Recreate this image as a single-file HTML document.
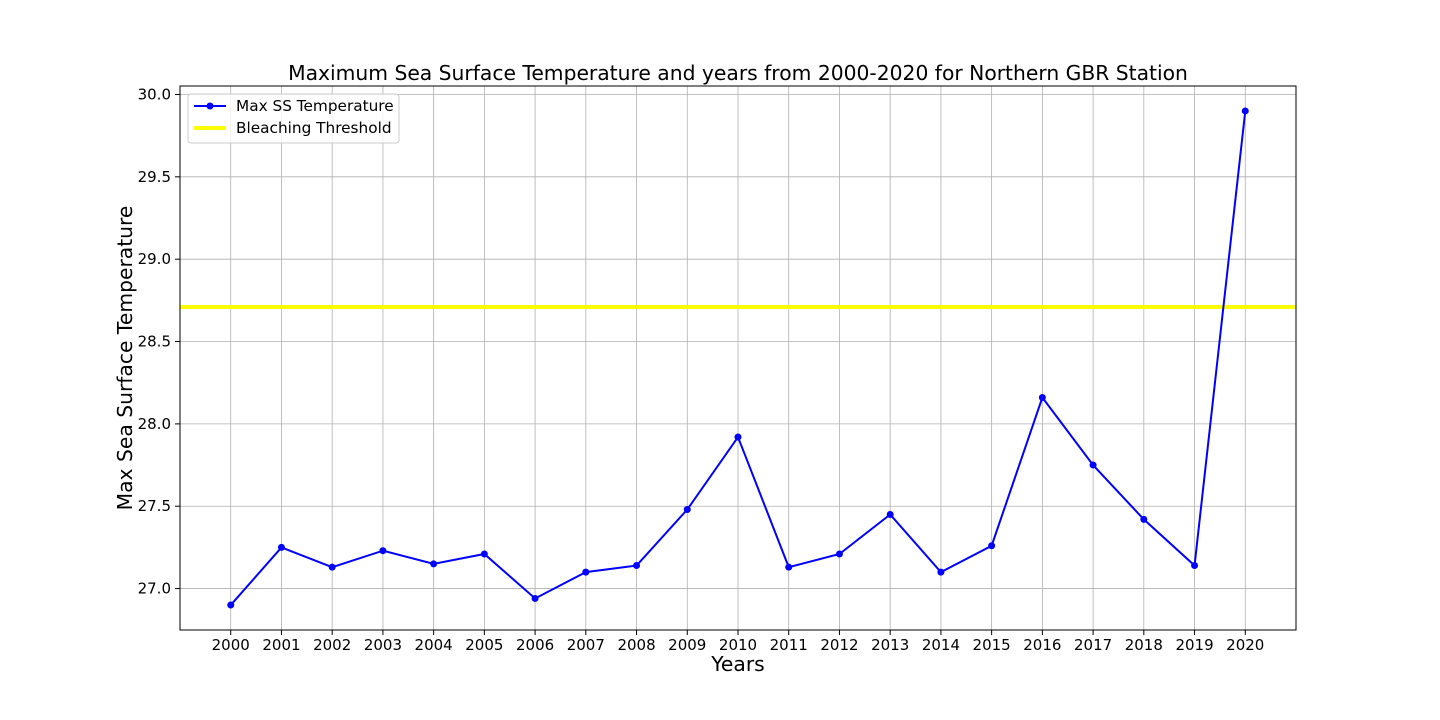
<!DOCTYPE html>
<html><head><meta charset="utf-8">
<style>
html,body{margin:0;padding:0;background:#fff;}
svg{display:block;font-family:"DejaVu Sans","Liberation Sans",sans-serif;}
</style></head>
<body>
<svg id="chart" width="1440" height="720"></svg>
<script>
const years=[2000,2001,2002,2003,2004,2005,2006,2007,2008,2009,2010,2011,2012,2013,2014,2015,2016,2017,2018,2019,2020];
const temps=[26.90,27.25,27.13,27.23,27.15,27.21,26.94,27.10,27.14,27.48,27.92,27.13,27.21,27.45,27.10,27.26,28.16,27.75,27.42,27.14,29.90];
const threshold=[28.71];
const yTicks=[27.0,27.5,28.0,28.5,29.0,29.5,30.0];

const L=180,R=1296,T=86,B=630;
const xMin=1999,xMax=2021,yMin=26.7485,yMax=30.0515;
const X=v=>L+(v-xMin)/(xMax-xMin)*(R-L);
const Y=v=>B-(v-yMin)/(yMax-yMin)*(B-T);
const NS="http://www.w3.org/2000/svg";
const svg=document.getElementById('chart');
function mk(tag,attrs,parent){const e=document.createElementNS(NS,tag);for(const k in attrs)e.setAttribute(k,attrs[k]);(parent||svg).appendChild(e);return e;}

const grid=mk('g',{});


years.forEach(y=>{mk('line',{x1:X(y),x2:X(y),y1:T,y2:B,stroke:'#b0b0b0','stroke-width':0.8},grid);});
yTicks.forEach(t=>{mk('line',{x1:L,x2:R,y1:Y(t),y2:Y(t),stroke:'#b0b0b0','stroke-width':0.8},grid);});

const th=mk('line',{x1:L,x2:R,y1:Y(threshold[0]),y2:Y(threshold[0]),stroke:'#ffff00','stroke-width':4});



const pl=mk('polyline',{points:years.map((y,i)=>X(y)+','+Y(temps[i])).join(' '),fill:'none',stroke:'#0000ff','stroke-width':2});


years.forEach((y,i)=>{
 const c=mk('circle',{cx:X(y),cy:Y(temps[i]),r:3.5,fill:'#0000ff'});
 
 
});

const frame=mk('rect',{x:L,y:T,width:R-L,height:B-T,fill:'none',stroke:'#000','stroke-width':1});



years.forEach(y=>{
 mk('line',{x1:X(y),x2:X(y),y1:B,y2:B+5,stroke:'#000'});
 const t=mk('text',{x:X(y),y:B+20,'text-anchor':'middle','font-size':15});
 t.textContent=y;
 
 
});
yTicks.forEach(v=>{
 mk('line',{x1:L-5,x2:L,y1:Y(v),y2:Y(v),stroke:'#000'});
 const t=mk('text',{x:L-9,y:Y(v)+5,'text-anchor':'end','font-size':15});
 t.textContent=v.toFixed(1);
 
 
});
</script>
<svg style="position:absolute;left:0;top:0" width="1440" height="720">
<text x="738" y="80" text-anchor="middle" font-size="20.3">Maximum Sea Surface Temperature and years from 2000-2020 for Northern GBR Station</text>
<text x="738" y="671" text-anchor="middle" font-size="20.3">Years</text>
<text x="132" y="358" text-anchor="middle" font-size="20.3" transform="rotate(-90 132 358)">Max Sea Surface Temperature</text>
<g>
<rect x="188" y="94" width="211" height="49" rx="3" fill="#fff" fill-opacity="0.8" stroke="#ccc"/>
<line x1="194" x2="226" y1="106" y2="106" stroke="#0000ff" stroke-width="2"/>
<circle cx="210" cy="106" r="3.5" fill="#0000ff"/>
<text x="236" y="111" font-size="15.3">Max SS Temperature</text>
<line x1="194" x2="226" y1="128" y2="128" stroke="#ffff00" stroke-width="4"/>
<text x="236" y="133" font-size="15.3">Bleaching Threshold</text>
</g>
</svg>
</body></html>
